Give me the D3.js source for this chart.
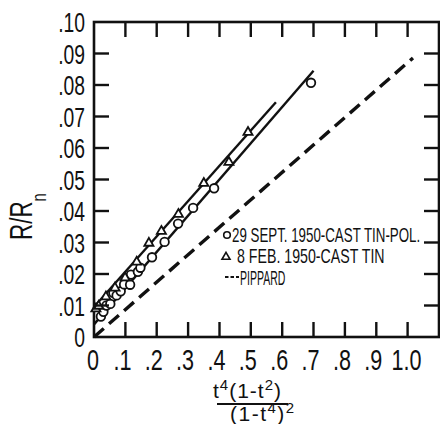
<!DOCTYPE html>
<html lang="en">
<head>
  <meta charset="UTF-8" />
  <title>R/Rn vs t</title>
  <script src="https://cdn.jsdelivr.net/npm/d3@7/dist/d3.min.js"></script>
  <style>
    body { margin: 0; background: #fff; }
    svg { display: block; }
    text { font-family: "Liberation Sans", Arial, sans-serif; fill: #111; }
  </style>
</head>
<body>
  <svg width="440" height="424"></svg>
  <script>
    // data
    const xTicks = [0, 0.1, 0.2, 0.3, 0.4, 0.5, 0.6, 0.7, 0.8, 0.9, 1.0];
    const xTickLabels = ["0", ".1", ".2", ".3", ".4", ".5", ".6", ".7", ".8", ".9", "1.0"];
    const yTicks = [0, 0.01, 0.02, 0.03, 0.04, 0.05, 0.06, 0.07, 0.08, 0.09, 0.10];
    const yTickLabels = ["0", ".01", ".02", ".03", ".04", ".05", ".06", ".07", ".08", ".09", ".10"];

    // 29 Sept 1950, cast tin - pol. (circles)
    const septPoints = [
      [0.022, 0.0065], [0.030, 0.0080], [0.040, 0.0100], [0.052, 0.0105],
      [0.062, 0.0140], [0.072, 0.0132], [0.085, 0.0145], [0.096, 0.0167],
      [0.115, 0.0166], [0.118, 0.0198], [0.140, 0.0207], [0.148, 0.0220],
      [0.185, 0.0253], [0.225, 0.0302], [0.268, 0.0360], [0.316, 0.0410],
      [0.383, 0.0472], [0.692, 0.0807]
    ];
    // 8 Feb 1950, cast tin (triangles)
    const febPoints = [
      [0.006, 0.0090], [0.015, 0.0098], [0.038, 0.0128], [0.067, 0.0156],
      [0.099, 0.0188], [0.136, 0.0238], [0.175, 0.0298], [0.215, 0.0336],
      [0.269, 0.0390], [0.350, 0.0488], [0.430, 0.0555], [0.491, 0.0650]
    ];
    const septFit = [[0, 0.0040], [0.70, 0.0845]];
    const febFit = [[0, 0.0095], [0.58, 0.0745]];
    const pippard = [[0, 0], [1.017, 0.0886]];

    const legendLabels = ["29 SEPT. 1950-CAST TIN-POL.", "8 FEB. 1950-CAST TIN", "PIPPARD"];

    const svg = d3.select("svg");
    const x = d3.scaleLinear().domain([0, 1.1]).range([94, 439]);
    const y = d3.scaleLinear().domain([0, 0.1]).range([337, 22]);
    const r1 = v => Math.round(v * 10) / 10;   // keep coordinates short

    const ink = "#111";
    const tickLen = 15;

    // frame
    svg.append("rect")
      .attr("x", x(0)).attr("y", y(0.1))
      .attr("width", r1(x(1.1) - x(0))).attr("height", r1(y(0) - y(0.1)))
      .attr("fill", "none").attr("stroke", ink).attr("stroke-width", 2.6);

    // narrow, tall lettering: scale text horizontally
    function label(px, py, str, anchor, size, sx) {
      return svg.append("g").attr("transform", `translate(${r1(px)},${r1(py)}) scale(${sx},1)`)
        .append("text").attr("text-anchor", anchor).attr("font-size", size).text(str);
    }
    xTicks.forEach((v, i) => {
      const s = xTickLabels[i];
      if (s.startsWith(".")) label(x(v) + 6, 370, s, "end", 30, 0.72);
      else label(x(v) - 1, 370, s, "middle", 30, 0.72);
    });
    yTicks.forEach((v, i) => {
      label(85, y(v) + 10, yTickLabels[i], "end", 28, 0.69);
    });

    // lines
    const line = d3.line().x(d => x(d[0])).y(d => y(d[1]));
    svg.append("path").attr("d", line(pippard)).attr("fill", "none")
      .attr("stroke", ink).attr("stroke-width", 3.4).attr("stroke-dasharray", "13,7");
    [septFit, febFit].forEach(f => {
      svg.append("path").attr("d", line(f)).attr("fill", "none")
        .attr("stroke", ink).attr("stroke-width", 2.4);
    });

    // markers
    svg.append("g").selectAll("circle").data(septPoints).join("circle")
      .attr("cx", d => r1(x(d[0]))).attr("cy", d => r1(y(d[1]))).attr("r", 4.3)
      .attr("fill", "#fff").attr("stroke", ink).attr("stroke-width", 1.8);
    const tri = d3.symbol().type(d3.symbolTriangle).size(36);
    svg.append("g").selectAll("path").data(febPoints).join("path")
      .attr("d", tri).attr("transform", d => `translate(${r1(x(d[0]))},${r1(y(d[1]))})`)
      .attr("fill", "#fff").attr("stroke", ink).attr("stroke-width", 1.8);

    // legend
    const lg = svg.append("g");
    lg.append("circle").attr("cx", 227).attr("cy", 235).attr("r", 3.3)
      .attr("fill", "#fff").attr("stroke", ink).attr("stroke-width", 1.6);
    lg.append("path").attr("d", d3.symbol().type(d3.symbolTriangle).size(28))
      .attr("transform", "translate(226,257)")
      .attr("fill", "#fff").attr("stroke", ink).attr("stroke-width", 1.6);
    lg.append("path").attr("d", "M225,277H239").attr("stroke", ink)
      .attr("stroke-width", 2).attr("stroke-dasharray", "3.5,2");
    label(232, 242, legendLabels[0], "start", 20, 0.666);
    label(237, 263, legendLabels[1], "start", 20, 0.709);
    label(240, 285, legendLabels[2], "start", 20, 0.525);

    // y-axis title
    const ytl = svg.append("g").attr("transform", "translate(32,240) rotate(-90) scale(0.7,1)")
      .append("text").attr("font-size", 32);
    ytl.append("tspan").text("R/R");
    ytl.append("tspan").attr("dy", 14).attr("font-size", 21).text("n");

    // x-axis title as a fraction
    const num = svg.append("text").attr("x", 213).attr("y", 398)
      .attr("font-size", 21).attr("letter-spacing", 1);
    num.append("tspan").text("t");
    num.append("tspan").attr("dy", -8).attr("font-size", 15).text("4");
    num.append("tspan").attr("dy", 8).text("(1-t");
    num.append("tspan").attr("dy", -8).attr("font-size", 15).text("2");
    num.append("tspan").attr("dy", 8).text(")");
    svg.append("path").attr("d", "M217,404H288").attr("stroke", ink).attr("stroke-width", 2);
    const den = svg.append("text").attr("x", 230).attr("y", 421)
      .attr("font-size", 21).attr("letter-spacing", 1.5);
    den.append("tspan").text("(1-t");
    den.append("tspan").attr("dy", -8).attr("font-size", 15).text("4");
    den.append("tspan").attr("dy", 8).text(")");
    den.append("tspan").attr("dy", -8).attr("font-size", 15).text("2");

    // inward ticks on all four sides, coordinates rounded
    const inX = xTicks.filter(v => v > 0);
    const inY = yTicks.filter(v => v > 0 && v < 0.1);
    const x0 = r1(x(0)), x1 = r1(x(1.1)), yb = r1(y(0)), ytop = r1(y(0.1));
    inX.forEach(v => {
      const px = r1(x(v));
      svg.append("path").attr("d", `M${px},${yb - tickLen}V${yb}`)
        .attr("stroke", ink).attr("stroke-width", 2.4);
      svg.append("path").attr("d", `M${px},${ytop}V${ytop + tickLen}`)
        .attr("stroke", ink).attr("stroke-width", 2.4);
    });
    inY.forEach(v => {
      const py = r1(y(v));
      svg.append("path").attr("d", `M${x0},${py}H${x0 + tickLen}`)
        .attr("stroke", ink).attr("stroke-width", 2.4);
      svg.append("path").attr("d", `M${x1 - tickLen},${py}H${x1}`)
        .attr("stroke", ink).attr("stroke-width", 2.4);
    });
  </script>
</body>
</html>
